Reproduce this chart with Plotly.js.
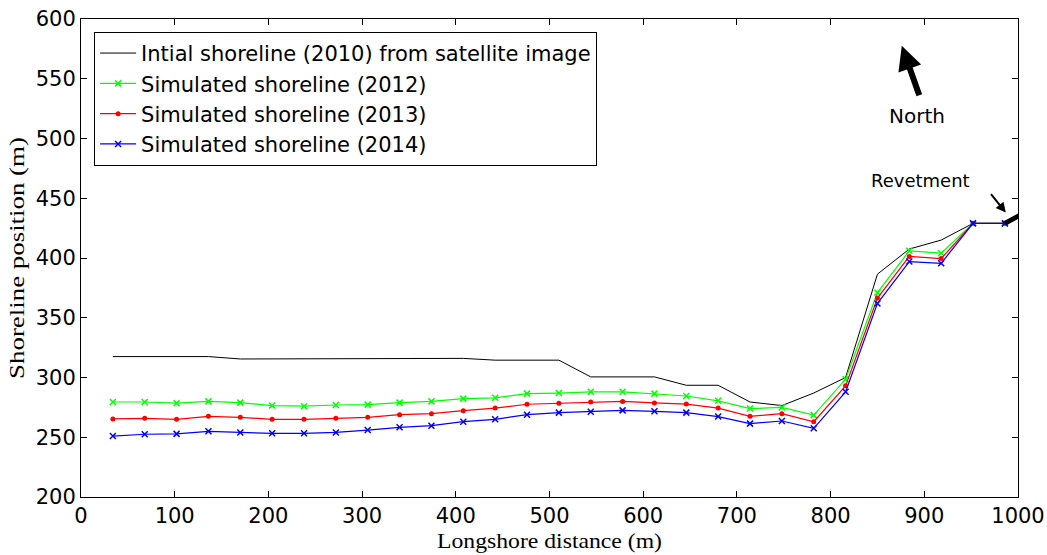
<!DOCTYPE html>
<html>
<head>
<meta charset="utf-8">
<script src="https://cdn.plot.ly/plotly-3.0.1.min.js"></script>
<style>html,body{margin:0;padding:0;background:#fff;}#chart{width:1047px;height:555px;}</style>
</head>
<body>
<div id="chart"></div>
<script>
const distance = [34,68,102,136,170,204,238,272,306,340,374,408,442,476,510,544,578,612,646,680,714,748,782,816,850,884,918,952,986];
const initial2010 = [317.5,317.5,317.5,317.5,315.5,315.5,315.5,316,316,316,316,316,314.5,314.5,314.5,300.5,300.5,300.5,293.5,293.5,279.5,276.5,287,300,386.5,407.5,415,429,429];
const sim2012 = [279.5,279.5,278.5,280,279,276.5,276,277,277.3,279,280,282.3,283,286.5,287,288,288,286.5,284.5,280.5,274,275,268.5,298.5,371,406,404,429,429];
const sim2013 = [265.3,265.8,265,267.5,266.7,265,265,266,266.7,268.9,269.7,272.2,274.4,277.6,278.4,279.5,280,278.7,277.8,274.4,267.5,269.7,263,293,366.5,401.3,399.5,429,429];
const sim2014 = [251,252.5,252.8,255,254,253.3,253.3,254,256,258.3,259.7,263,265,268.9,270.6,271.4,272.5,271.7,270.6,267.3,261.4,263.6,257.5,288,362,397,395.6,429,429];
const revetmentX = [986, 1012];
const revetmentY = [429, 440];
const seriesNames = ["Intial shoreline (2010) from satellite image","Simulated shoreline (2012)","Simulated shoreline (2013)","Simulated shoreline (2014)"];
const xTicks = [0,100,200,300,400,500,600,700,800,900,1000];
const yTicks = [200,250,300,350,400,450,500,550,600];

const sans = "DejaVu Sans, Arial, sans-serif";
const serif = "Liberation Serif, Times New Roman, serif";

const traces = [
  {x: distance, y: initial2010, name: seriesNames[0], mode: "lines", line: {color: "#000000", width: 1}, legendgroup: "a"},
  {x: distance, y: sim2012, name: seriesNames[1], mode: "lines+markers", line: {color: "#00ff00", width: 1.2}, marker: {symbol: "x-thin", size: 6, line: {color: "#00ff00", width: 1.5}}, legendgroup: "b"},
  {x: distance, y: sim2013, name: seriesNames[2], mode: "lines+markers", line: {color: "#ff0000", width: 1.2}, marker: {symbol: "circle", size: 5, color: "#ff0000"}, legendgroup: "c"},
  {x: distance, y: sim2014, name: seriesNames[3], mode: "lines+markers", line: {color: "#0000ff", width: 1.2}, marker: {symbol: "x-thin", size: 6, line: {color: "#0000ff", width: 1.5}}, legendgroup: "d"},
  {x: revetmentX, y: revetmentY, mode: "lines", line: {color: "#000000", width: 5}, showlegend: false, hoverinfo: "skip"}
];

const layout = {
  width: 1047, height: 555,
  margin: {l: 81, r: 29, t: 19, b: 58},
  paper_bgcolor: "#ffffff", plot_bgcolor: "#ffffff",
  font: {family: sans, size: 20, color: "#000"},
  showlegend: true,
  legend: {x: 0.014, y: 0.973, xanchor: "left", yanchor: "top", bordercolor: "#000", borderwidth: 1, bgcolor: "#fff",
           font: {family: sans, size: 21, color: "#000"}, tracegroupgap: 5, traceorder: "normal", itemwidth: 36},
  xaxis: {range: [0, 1000], tickvals: xTicks, ticktext: xTicks.map(String), ticks: "inside", ticklen: 6, tickcolor: "#000",
          showline: true, linecolor: "#000", linewidth: 1, mirror: "ticks", showgrid: false, zeroline: false,
          tickfont: {family: sans, size: 21, color: "#000"},
          title: {text: "Longshore distance (m)", font: {family: serif, size: 22, color: "#000"}, standoff: 2}},
  yaxis: {range: [200, 600], tickvals: yTicks, ticktext: yTicks.map(String), ticks: "inside", ticklen: 6, tickcolor: "#000",
          showline: true, linecolor: "#000", linewidth: 1, mirror: "ticks", showgrid: false, zeroline: false,
          tickfont: {family: sans, size: 21, color: "#000"},
          title: {text: "Shoreline position (m)", font: {family: serif, size: 21, color: "#000"}, standoff: 0}},
  annotations: [
    {x: 876, y: 577.6, xref: "x", yref: "y", text: "", showarrow: true, ax: 18, ay: 51, arrowwidth: 6, arrowhead: 2, arrowsize: 0.8, arrowcolor: "#000"},
    {x: 892, y: 519, xref: "x", yref: "y", text: "North", showarrow: false, font: {family: sans, size: 20, color: "#000"}},
    {x: 896, y: 465, xref: "x", yref: "y", text: "Revetment", showarrow: false, font: {family: sans, size: 18, color: "#000"}},
    {x: 987, y: 438, xref: "x", yref: "y", text: "", showarrow: true, ax: -16, ay: -20, arrowwidth: 2, arrowhead: 2, arrowsize: 1, arrowcolor: "#000"}
  ]
};

function stretchText(el, targetLen, dx) {
  if (!el) return;
  const bb = el.getBBox();
  if (!bb.width) return;
  const s = targetLen / bb.width;
  const x = parseFloat(el.getAttribute("x")) || 0;
  const y = parseFloat(el.getAttribute("y")) || 0;
  const t = el.getAttribute("transform") || "";
  el.setAttribute("transform", "translate(" + (dx || 0) + ",0) " + t + " translate(" + x + "," + y + ") scale(" + s + ",1) translate(" + (-x) + "," + (-y) + ")");
}

Plotly.newPlot("chart", traces, layout, {displayModeBar: false, staticPlot: true}).then(function (gd) {
  stretchText(gd.querySelector(".ytitle"), 242, -5);
  stretchText(gd.querySelector(".xtitle"), 225, 0);
});
</script>
</body>
</html>
